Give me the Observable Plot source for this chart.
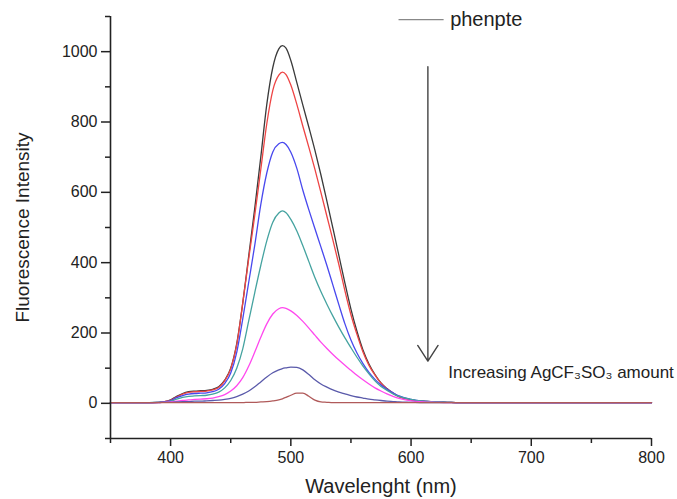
<!DOCTYPE html>
<html>
<head>
<meta charset="utf-8">
<script src="https://cdn.jsdelivr.net/npm/d3@7"></script>
<script src="https://cdn.jsdelivr.net/npm/@observablehq/plot@0.6"></script>
<style>
  html, body { margin: 0; padding: 0; background: #fff; }
  #chart svg { display: block; }
</style>
</head>
<body>
<div id="chart"></div>
<script>
// Wavelength samples (nm)
const wavelengths = [350,360,370,380,390,395,400,405,410,415,420,425,430,435,440,445,450,455,460,465,470,475,480,485,490,493,496,500,505,510,515,520,525,530,535,540,545,550,555,560,565,570,575,580,585,590,600,610,620,630,640,660,680,700,720,740,760,780,800];

// Fluorescence intensity series (decreasing with AgCF3SO3 amount)
const phenpte = [2,2,2,2,3,5,10,20,28,33,35,36,37,40,47,66,100,170,285,420,555,700,850,955,1008,1017,1010,975,912,848,785,720,650,575,498,420,342,268,205,152,112,82,58,42,29,19,10,6,4,3,2,2,2,2,2,2,2,2,2];
const add1 = [2,2,2,2,3,5,9,18,26,31,33,34,35,38,45,64,98,166,285,412,535,665,795,890,933,942,935,905,850,788,728,666,600,532,464,394,320,252,196,146,108,80,57,41,29,19,10,6,4,3,2,2,2,2,2,2,2,2,2];
const add2 = [2,2,2,2,3,4,8,16,22,26,28,29,30,33,40,56,86,145,240,345,450,565,655,715,738,742,736,714,668,606,550,497,445,392,336,280,226,180,143,113,88,68,52,40,30,21,11,6,4,3,2,2,2,2,2,2,2,2,2];
const add3 = [2,2,2,2,3,3,6,12,17,20,21,22,23,26,32,44,65,100,155,235,315,392,462,515,541,547,542,523,490,448,403,358,318,282,248,216,186,158,131,106,84,64,48,37,27,20,11,6,4,3,2,2,2,2,2,2,2,2,2];
const add4 = [2,2,2,2,2,3,4,6,8,10,11,12,13,15,19,25,35,50,73,106,146,188,226,254,269,272,270,263,250,233,214,194,174,156,139,123,108,94,80,67,55,44,35,27,20,14,7,4,3,2,2,2,2,2,2,2,2,2,2];
const add5 = [2,2,2,2,2,3,3,4,5,5,6,6,7,8,9,11,14,19,26,35,47,61,75,87,95,99,101,103,102,95,82,67,55,46,38,32,27,22,18,15,12,10,8,6,5,4,3,2,2,2,2,2,2,2,2,2,2,2,2];
const add6 = [2,2,2,2,2,2,2,2,2,2,2,2,2,2,2,2,2,2,2,3,3,4,5,7,10,13,17,23,29,29,20,9,4,3,2,2,2,2,2,2,2,2,2,2,2,2,2,2,2,2,2,2,2,2,2,2,2,2,2];

const seriesValues = [phenpte, add1, add2, add3, add4, add5, add6];
const seriesColors = ["#3a3a3a", "#ee4444", "#4848ee", "#45a3a0", "#ff48ee", "#5a5aaa", "#b05a5a"];

const xMajor = [400, 500, 600, 700, 800];
const xMinor = [350, 450, 550, 650, 750];
const yMajor = [0, 200, 400, 600, 800, 1000];
const yMinor = [-100, 100, 300, 500, 700, 900, 1100];

const legendLabel = "phenpte";
const annotation = "Increasing AgCF\u2083SO\u2083 amount";
const xTitle = "Wavelenght (nm)";
const yTitle = "Fluorescence Intensity";

const lines = seriesValues.map((vals, i) =>
  Plot.line(wavelengths.map((w, j) => ({w, v: vals[j]})), {
    x: "w", y: "v", stroke: seriesColors[i], strokeWidth: 1.3, curve: "monotone-x"
  })
);

const chart = Plot.plot({
  width: 677,
  height: 499,
  marginLeft: 110,
  marginRight: 26,
  marginTop: 16,
  marginBottom: 61,
  style: {fontFamily: "'Liberation Sans', Arial, sans-serif", color: "#222", background: "#fff"},
  x: {domain: [350, 800]},
  y: {domain: [-100, 1100]},
  marks: [
    ...lines,
    // axis lines
    Plot.ruleY([-100], {stroke: "#222", strokeWidth: 1.6}),
    Plot.ruleX([350], {stroke: "#222", strokeWidth: 1.6}),
    // ticks
    Plot.axisX({ticks: xMajor, tickSize: 8, tickPadding: 5, fontSize: 16, label: null, tickFormat: d3.format("d"), strokeWidth: 1.5}),
    Plot.axisX({ticks: xMinor, tickSize: 5, text: null, label: null, strokeWidth: 1.5}),
    Plot.axisY({ticks: yMajor, tickSize: 9, tickPadding: 4, fontSize: 16, label: null, tickFormat: d3.format("d"), strokeWidth: 1.5}),
    Plot.axisY({ticks: yMinor, tickSize: 5, text: null, label: null, strokeWidth: 1.5}),
    // axis titles
    Plot.text([xTitle], {frameAnchor: "bottom", dy: 48, fontSize: 20, fill: "#222", lineAnchor: "middle", textAnchor: "middle"}),
    Plot.text([yTitle], {frameAnchor: "left", dx: -88, rotate: -90, fontSize: 19, fill: "#222", lineAnchor: "middle", textAnchor: "middle"}),
    // legend
    Plot.ruleY([1091], {x1: 590, x2: 627.5, stroke: "#888", strokeWidth: 1.2}),
    Plot.text([legendLabel], {x: 632.5, y: 1091, textAnchor: "start", lineAnchor: "middle", fontSize: 20, fill: "#222"}),
    // arrow annotation
    Plot.arrow([0], {x1: 614, x2: 614, y1: 957, y2: 120, stroke: "#444", strokeWidth: 1.4, headAngle: 66, headLength: 20}),
    Plot.text([annotation], {x: 631, y: 87, textAnchor: "start", lineAnchor: "middle", fontSize: 17, fill: "#222"})
  ]
});

document.getElementById("chart").appendChild(chart);
</script>
</body>
</html>
